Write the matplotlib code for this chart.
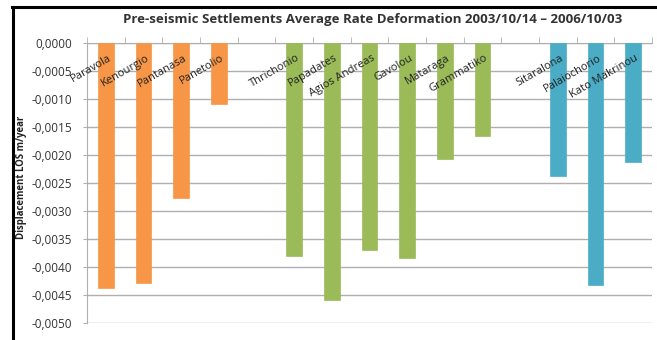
import matplotlib
matplotlib.use("Agg")
import matplotlib.pyplot as plt
from matplotlib.lines import Line2D
from matplotlib.ticker import MultipleLocator, FuncFormatter
import numpy as np

plt.rcParams['font.family'] = ['Open Sans', 'DejaVu Sans']

categories = ["Paravola", "Kenourgio", "Pantanasa", "Panetolio", "",
              "Thrichonio", "Papadates", "Agios Andreas", "Gavolou", "Mataraga", "Grammatiko", "",
              "Sitaralona", "Palaiochorio", "Kato Makrinou"]
values = [-0.00438, -0.00429, -0.00276, -0.00109, np.nan,
          -0.00380, -0.00459, -0.00370, -0.00384, -0.00208, -0.00166, np.nan,
          -0.00237, -0.00433, -0.00213]
groups = ["orange"] * 5 + ["green"] * 7 + ["blue"] * 3
group_colors = {"orange": "#F79646", "green": "#9BBB59", "blue": "#4BACC6"}
title = "Pre-seismic Settlements Average Rate Deformation 2003/10/14 \u2013 2006/10/03"
ylabel = "Displacement LOS m/year"

fig = plt.figure(figsize=(6.57, 3.40), dpi=100)
ax = fig.add_axes([87/657, 1 - 323/340, (652 - 87)/657, (323 - 43)/340])

x = np.arange(len(categories))
colors = [group_colors[g] for g in groups]
ax.bar(x, values, width=0.42, color=colors, edgecolor=colors, linewidth=0.5, zorder=3)

ax.set_xlim(-0.5, len(categories) - 0.5)
ax.set_ylim(-0.0050, 0.0)
ax.yaxis.set_major_locator(MultipleLocator(0.0005))
ax.yaxis.set_major_formatter(FuncFormatter(lambda v, p: f"{v:.4f}".replace(".", ",").replace("-0,0000", "0,0000")))
ax.grid(axis='y', color='#AFAFAF', linewidth=1.0, zorder=0)
ax.tick_params(axis='y', labelsize=8.5, length=3, pad=8, color='#AFAFAF', labelcolor='#333333')

for s in ['right', 'bottom']:
    ax.spines[s].set_visible(False)
ax.spines['left'].set_color('#AFAFAF')
ax.spines['top'].set_color('#AFAFAF')

ax.set_xticks([])
ax.set_xticks(np.arange(len(categories) + 1) - 0.5, minor=True)
ax.tick_params(axis='x', which='minor', top=True, bottom=False, direction='out',
               length=4, color='#AFAFAF', labelbottom=False)

for xi, name in zip(x, categories):
    if name:
        ax.text(xi + 0.05, -0.00017, name, rotation=30, rotation_mode='anchor',
                ha='right', va='top', fontsize=8, color='#222222', zorder=4)

fig.text(373/657, 1 - 20/340, title, ha='center', va='center', fontsize=9.5,
         fontweight='bold', color='#333333')
fig.text(22/657, 1 - 177/340, ylabel, rotation=90, ha='center', va='center',
         fontsize=6.9, fontweight='bold', color='#222222')

fig.add_artist(Line2D([13/657, 13/657], [0, 1 - 7/340], transform=fig.transFigure,
                      color='black', linewidth=2.2))
fig.add_artist(Line2D([12/657, 1], [1 - 7/340, 1 - 7/340], transform=fig.transFigure,
                      color='black', linewidth=2.2))

fig.savefig("out.png", dpi=100)
